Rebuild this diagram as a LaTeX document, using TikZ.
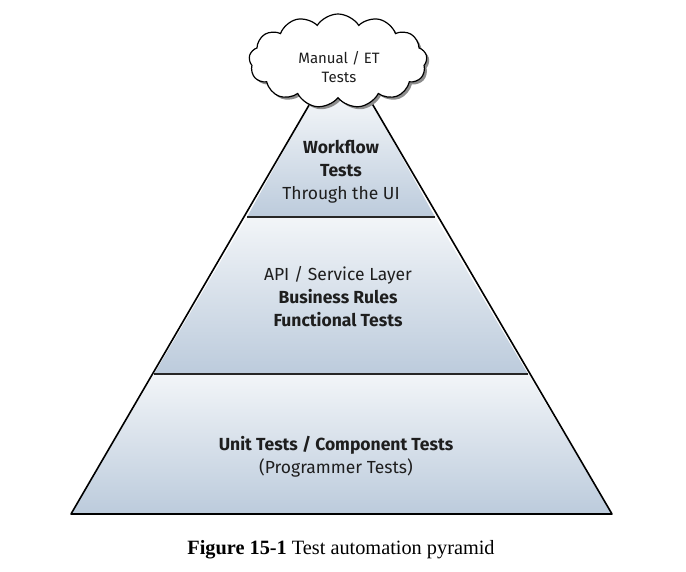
\documentclass[tikz,border=0pt]{standalone}
\usepackage{fontspec}
\setmainfont{Fira Sans}
\newfontfamily\capfont{Liberation Serif}
\usetikzlibrary{shapes.symbols,shadows}
\definecolor{bandlight}{RGB}{242,245,248}
\definecolor{banddark}{RGB}{188,203,220}
\definecolor{inktext}{RGB}{30,30,30}
\tikzset{
  band/.style={top color=bandlight, bottom color=banddark, draw=none},
  edge/.style={draw=black, line width=1.6pt, line join=round},
  divider/.style={draw=black!85, line width=1.4pt},
  lbl/.style={text=inktext, align=center, font=\fontsize{17.5}{23}\selectfont},
}
\begin{document}
\begin{tikzpicture}[x=1pt,y=-1pt]
\useasboundingbox (0,0) rectangle (686,571);
\fill[white] (0,0) rectangle (686,571);
% corner coordinates
\coordinate (bl) at (71,514);  \coordinate (br) at (612,514);
\coordinate (ml) at (154,374); \coordinate (mr) at (528,374);
\coordinate (tl) at (247,217); \coordinate (tr) at (435,217);
\coordinate (al) at (312,100); \coordinate (ar) at (370,100);
% bands
\shade[band] (bl) -- (br) -- (mr) -- (ml) -- cycle;
\shade[band] (ml) -- (mr) -- (tr) -- (tl) -- cycle;
\shade[band] (tl) -- (tr) -- (ar) -- (al) -- cycle;
% outline
\draw[edge] (al) -- (bl) -- (br) -- (ar);
\draw[divider] (ml) -- (mr);
\draw[divider] (tl) -- (tr);
% cloud
\node[cloud, cloud puffs=13, cloud puff arc=115, aspect=2.1,
      minimum width=178pt, minimum height=94pt, inner sep=0pt,
      draw=black, line width=1.2pt, fill=white,
      drop shadow={shadow xshift=2.5pt, shadow yshift=-2.5pt, fill=black!45, opacity=1}] (cloud) at (338,61) {};
\node[lbl, font=\fontsize{15}{19}\selectfont] (cloudtext) at (339,67) {Manual / ET\\Tests};
% labels
\node[lbl] (top) at (341,172) {\textbf{Workflow}\\\textbf{Tests}\\Through the UI};
\node[lbl] (mid) at (338,297) {API / Service Layer\\\textbf{Business Rules}\\\textbf{Functional Tests}};
\node[lbl] (bot) at (336,457) {\textbf{Unit Tests / Component Tests}\\(Programmer Tests)};
% caption
\node[text=black, font=\capfont\fontsize{20.3}{24}\selectfont] (cap) at (341,550) {\textbf{Figure 15-1} Test automation pyramid};
\end{tikzpicture}
\end{document}
